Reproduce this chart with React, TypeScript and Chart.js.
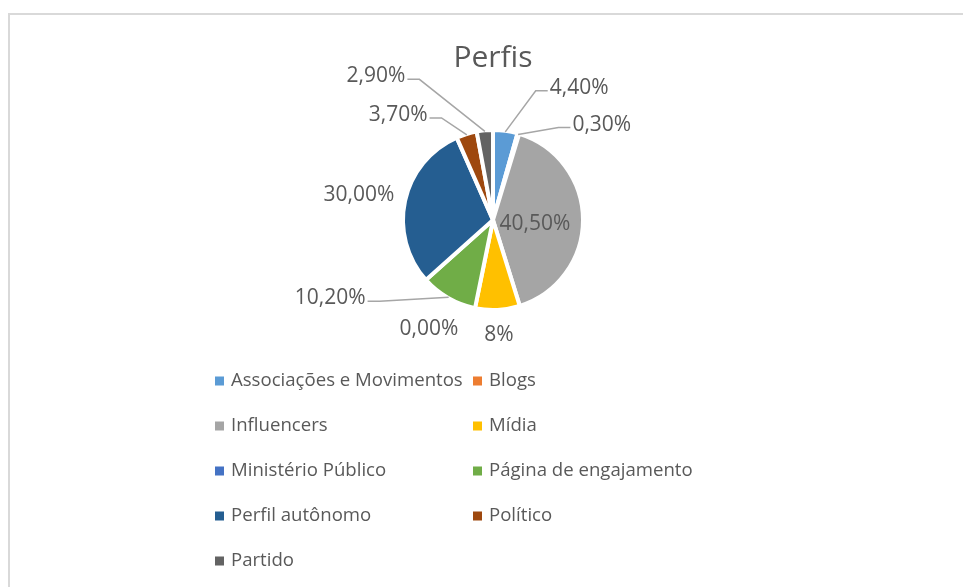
import React, { useEffect, useRef } from "react";
import { Chart, registerables } from "chart.js";

Chart.register(...registerables);

// ---- data ----
const categories = [
  "Associações e Movimentos",
  "Blogs",
  "Influencers",
  "Mídia",
  "Ministério Público",
  "Página de engajamento",
  "Perfil autônomo",
  "Político",
  "Partido",
];
const values = [4.4, 0.3, 40.5, 8, 0, 10.2, 30, 3.7, 2.9];
const valueLabels = ["4,40%", "0,30%", "40,50%", "8%", "0,00%", "10,20%", "30,00%", "3,70%", "2,90%"];
const colors = ["#5B9BD5", "#ED7D31", "#A5A5A5", "#FFC000", "#4472C4", "#70AD47", "#255E91", "#9E480E", "#636363"];
const titleText = "Perfis";

// ---- layout / style ----
const FONT = "'Open Sans', sans-serif";
const TEXT = "#595959";
const BORDER = 4;
// label offset from the outer midpoint of each slice
const labelOffsets: number[][] = [
  [74, -45],
  [84, -11],
  [-46, 4],
  [1.5, 27],
  [-46.5, 23],
  [-119, 2],
  [-48, -6],
  [-69, -21],
  [-109, -56],
];
const labelLines = [true, true, false, false, false, true, false, true, true];
const LEG_X = 215;
const LEG_COL = 258;
const LEG_Y = 381;
const LEG_ROW = 45;

const labelPlugin = {
  id: "pieLabels",
  afterDatasetsDraw(chart: any) {
    const ctx = chart.ctx;
    const meta = chart.getDatasetMeta(0);
    ctx.save();
    ctx.font = `21px ${FONT}`;
    ctx.textAlign = "center";
    ctx.textBaseline = "middle";
    meta.data.forEach((arc: any, i: number) => {
      const p = arc.getProps(["x", "y", "startAngle", "endAngle", "outerRadius"], true);
      const mid = (p.startAngle + p.endAngle) / 2;
      const r = p.outerRadius - BORDER / 2;
      const ex = p.x + r * Math.cos(mid);
      const ey = p.y + r * Math.sin(mid);
      const [dx, dy] = labelOffsets[i];
      const lx = ex + dx;
      const ly = ey + dy;
      const text = valueLabels[i];
      const w = ctx.measureText(text).width;
      if (labelLines[i]) {
        const right = lx > p.x;
        const endX = right ? lx - w / 2 - 2 : lx + w / 2 + 2;
        const endY = ly + 3;
        const elbowX = right ? endX - 12 : endX + 12;
        const sx = p.x + (r + 1) * Math.cos(mid);
        const sy = p.y + (r + 1) * Math.sin(mid);
        ctx.beginPath();
        ctx.moveTo(sx, sy);
        ctx.lineTo(elbowX, endY);
        ctx.lineTo(endX, endY);
        ctx.strokeStyle = "#A6A6A6";
        ctx.lineWidth = 1.5;
        ctx.stroke();
      }
      ctx.fillStyle = TEXT;
      ctx.fillText(text, lx, ly);
    });
    ctx.restore();
  },
};

const legendPlugin = {
  id: "gridLegend",
  afterDraw(chart: any) {
    const ctx = chart.ctx;
    const labels = chart.data.labels as string[];
    const bg = chart.data.datasets[0].backgroundColor as string[];
    ctx.save();
    ctx.font = `18.6px ${FONT}`;
    ctx.textAlign = "left";
    ctx.textBaseline = "middle";
    labels.forEach((c, i) => {
      const col = i % 2;
      const row = Math.floor(i / 2);
      const x = LEG_X + col * LEG_COL;
      const y = LEG_Y + row * LEG_ROW;
      ctx.fillStyle = bg[i];
      ctx.fillRect(x, y - 4.5, 9, 9);
      ctx.fillStyle = TEXT;
      ctx.fillText(c, x + 16, y);
    });
    ctx.restore();
  },
};

export default function App() {
  const ref = useRef<HTMLCanvasElement | null>(null);
  useEffect(() => {
    if (!ref.current) return;
    const chart = new Chart(ref.current, {
      type: "pie",
      data: {
        labels: categories,
        datasets: [
          {
            data: values,
            backgroundColor: colors,
            borderColor: "#FFFFFF",
            borderWidth: BORDER,
          },
        ],
      },
      options: {
        responsive: false,
        animation: false,
        radius: 90,
        layout: { padding: { left: 23, right: 0, top: 0, bottom: 223 } },
        plugins: {
          legend: { display: false },
          tooltip: { enabled: false },
          title: {
            display: true,
            text: titleText,
            color: TEXT,
            font: { family: FONT, size: 30, weight: "normal", lineHeight: 1.2 },
            padding: { top: 40, bottom: 0 },
          },
        },
      } as any,
      plugins: [labelPlugin, legendPlugin],
    });
    return () => chart.destroy();
  }, []);

  return (
    <div style={{ position: "fixed", left: 0, top: 0, width: 963, height: 587, overflow: "hidden", background: "#fff" }}>
      <div
        style={{
          position: "absolute",
          left: 8,
          top: 13,
          width: 1000,
          height: 1000,
          borderTop: "2px solid #D9D9D9",
          borderLeft: "2px solid #D9D9D9",
        }}
      />
      <canvas ref={ref} width={963} height={587} style={{ position: "absolute", left: 0, top: 0, width: 963, height: 587 }} />
    </div>
  );
}
